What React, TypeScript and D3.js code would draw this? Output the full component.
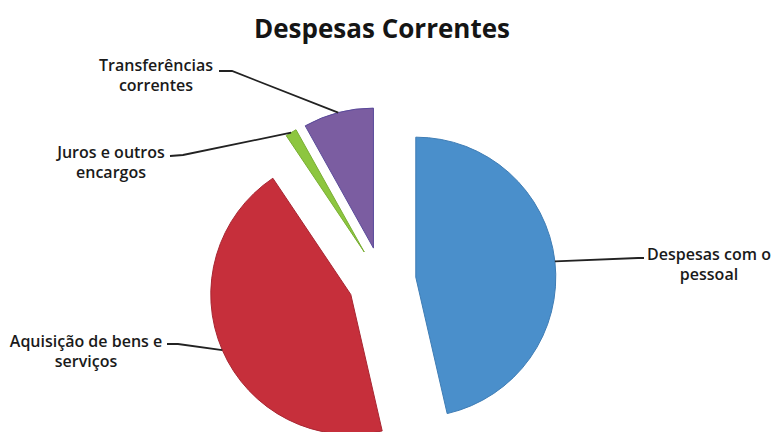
import React from 'react';
import * as d3 from 'd3';

// slice data, clockwise from 12 o'clock
const categories = [
  'Despesas com o pessoal',
  'Aquisição de bens e serviços',
  'Juros e outros encargos',
  'Transferências correntes',
];
const values = [46.4, 44.2, 1.3, 8.1];
const labelLines = [
  ['Despesas com o', 'pessoal'],
  ['Aquisição de bens e', 'serviços'],
  ['Juros e outros', 'encargos'],
  ['Transferências', 'correntes'],
];
const colors = ['#4A8FCB', '#C62F3B', '#8DC63F', '#7B5DA1'];
const strokes = ['#3F7DB5', '#A82632', '#79AE33', '#5A4A9A'];

const W = 771;
const H = 432;
const cx = 382;
const cy = 281;
const R = 140;
const EXPLODE = 34;

// label placement (text centre x, first baseline, elbow of the leader, text edge)
const labelLayout = [
  { x: 709, y: 260, elbow: [638, 258], edge: [644, 258] },
  { x: 86, y: 347, elbow: [178, 344], edge: [167, 344] },
  { x: 111, y: 158, elbow: [183, 155], edge: [170, 156] },
  { x: 156, y: 71, elbow: [232, 71], edge: [219, 71] },
];

const FONT = '"Open Sans", Lato, sans-serif';

export default function App() {
  const pie = d3.pie<number>().sort(null).value(d => d);
  const arcs = pie(values);
  const arcGen = d3.arc<d3.PieArcDatum<number>>().innerRadius(0).outerRadius(R);

  return (
    <svg
      width={W}
      height={H}
      style={{ position: 'absolute', left: 0, top: 0, background: '#fff' }}
    >
      <text
        x={cx}
        y={38}
        textAnchor="middle"
        fontFamily={FONT}
        fontWeight="bold"
        fontSize={26}
        fill="#151515"
      >
        Despesas Correntes
      </text>

      {arcs.map((a, i) => {
        const mid = (a.startAngle + a.endAngle) / 2;
        const ox = Math.sin(mid) * EXPLODE;
        const oy = -Math.cos(mid) * EXPLODE;
        const ax = cx + ox + Math.sin(mid) * R;
        const ay = cy + oy - Math.cos(mid) * R;
        const lay = labelLayout[i];
        return (
          <g key={categories[i]}>
            <path
              d={arcGen(a) || ''}
              transform={`translate(${cx + ox},${cy + oy})`}
              fill={colors[i]}
              stroke={strokes[i]}
              strokeWidth={1}
            />
            <polyline
              points={`${ax},${ay} ${lay.elbow[0]},${lay.elbow[1]} ${lay.edge[0]},${lay.edge[1]}`}
              fill="none"
              stroke="#222"
              strokeWidth={1.8}
            />
            <text
              x={lay.x}
              y={lay.y}
              textAnchor="middle"
              fontFamily={FONT}
              fontSize={16}
              fontWeight={600}
              fill="#1a1a1a"
            >
              {labelLines[i].map((l, j) => (
                <tspan key={j} x={lay.x} dy={j === 0 ? 0 : 20}>
                  {l}
                </tspan>
              ))}
            </text>
          </g>
        );
      })}
    </svg>
  );
}
